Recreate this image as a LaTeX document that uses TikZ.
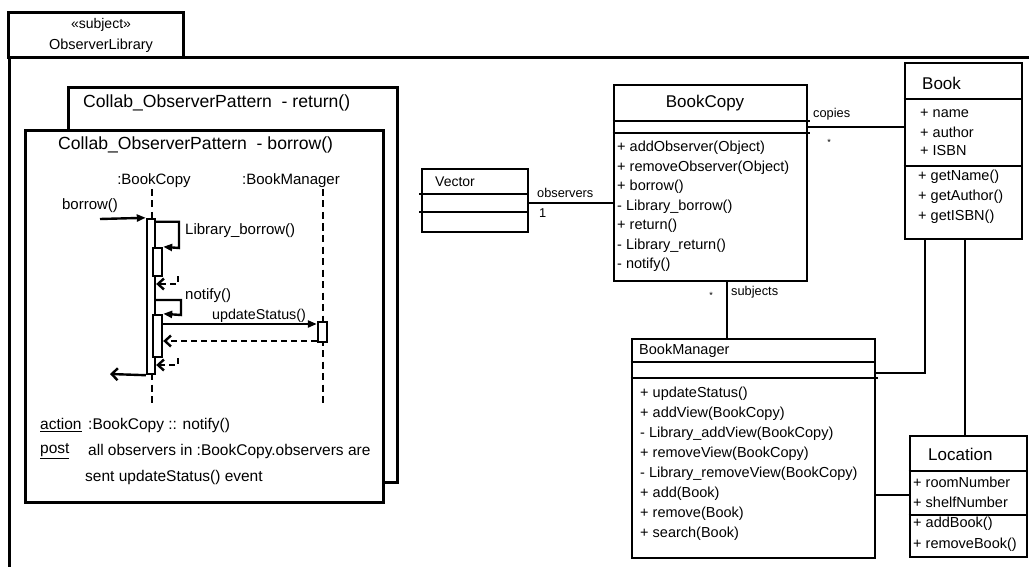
\documentclass[tikz,border=0pt]{standalone}
\usepackage{fontspec}
\setmainfont{Liberation Sans}
\usetikzlibrary{arrows.meta}

\begin{document}
\begin{tikzpicture}[x=1pt,y=-1pt,line join=miter,
  frame/.style={draw,line width=3pt},
  cls/.style={draw,line width=2.8pt,fill=white,inner sep=0pt},
  rule/.style={line width=2.4pt},
  thinrule/.style={line width=1.5pt},
  assoc/.style={line width=2.6pt},
  ttl/.style={inner sep=0pt,font=\fontsize{17}{17}\selectfont},
  mem/.style={inner sep=0pt,anchor=west,font=\fontsize{14.5}{14.5}\selectfont},
  tag/.style={inner sep=0pt,font=\fontsize{12.8}{12.8}\selectfont},
  seqtxt/.style={inner sep=0pt,font=\fontsize{15}{15}\selectfont},
  head/.style={inner sep=0pt,anchor=west,font=\fontsize{17.6}{17.6}\selectfont},
  note/.style={inner sep=0pt,anchor=west,font=\fontsize{15.5}{15.5}\selectfont},
  actbar/.style={draw,line width=2.4pt,fill=white,inner sep=0pt},
  life/.style={line width=2.6pt,dash pattern=on 7pt off 4.5pt},
  msg/.style={line width=2.4pt,-{Triangle[length=9pt,width=7pt]}},
  ret/.style={line width=2.4pt,dash pattern=on 6pt off 4pt,-{Straight Barb[length=6pt,width=11pt,line width=2.4pt]}},
  back/.style={line width=2.4pt,-{Straight Barb[length=6pt,width=12pt,line width=2.4pt]}}
]
\useasboundingbox (0,0) rectangle (1029,567);
\fill[white] (0,0) rectangle (1029,567);

% ---- package frame with its tab ----
\node[frame,minimum width=175pt,minimum height=45pt,inner sep=0pt] (tab) at (95.5,35.5) {};
\node[tag,font=\fontsize{14}{14}\selectfont] (stereo) at (101,25) {«subject»};
\node[tag,font=\fontsize{14.5}{14.5}\selectfont] (pkgname) at (101,46) {ObserverLibrary};
\draw[frame] (1030,58) -- (9,58) -- (9,568);

% ---- collaboration frames ----
\node[frame,fill=white,minimum width=329pt,minimum height=394pt,inner sep=0pt] (retframe) at (232.5,285) {};
\node[head] (rettitle) at (83,103) {Collab\_ObserverPattern~ - return()};
\node[frame,fill=white,minimum width=358pt,minimum height=371pt,inner sep=0pt] (borframe) at (204,316.5) {};
\node[head] (bortitle) at (58,145) {Collab\_ObserverPattern~ - borrow()};

% lifelines
\node[seqtxt] (bchead) at (154,181) {:BookCopy};
\node[seqtxt] (bmhead) at (291,181) {:BookManager};
\coordinate (bctop) at (152,189);
\coordinate (bcbot) at (152,406);
\coordinate (bmtop) at (323,189);
\coordinate (bmbot) at (323,406);
\draw[life] (bctop) -- (bcbot);
\draw[life] (bmtop) -- (bmbot);

% activations
\node[actbar,minimum width=8pt,minimum height=155pt] (act1) at (151,296.5) {};
\node[actbar,minimum width=9pt,minimum height=28pt] (act2) at (157.5,262) {};
\node[actbar,minimum width=9pt,minimum height=42pt] (act3) at (157.5,336) {};
\node[actbar,minimum width=9pt,minimum height=20pt] (bmact) at (322.5,332) {};

% messages
\coordinate (borrowin) at (100,219);
\draw[msg] (borrowin) -- (act1.north west);
\node[seqtxt] (borrowlbl) at (90,206) {borrow()};

\draw[msg] ([yshift=-4pt]act1.north east) -| (179,248) -- (act2.north east);
\node[seqtxt,anchor=west] (libborrowlbl) at (185,231) {Library\_borrow()};
\draw[ret] (178,276) |- (act1.east |- 0,284);

\draw[msg] (act1.east |- 0,300) -| (181,315) -- (act3.north east);
\node[seqtxt,anchor=west] (notifylbl) at (185,296) {notify()};

\draw[msg] (act3.east |- 0,324) -- (bmact.west |- 0,324);
\node[seqtxt,font=\fontsize{14.3}{14.3}\selectfont] (updlbl) at (259,316) {updateStatus()};
\draw[ret] (bmact.west |- 0,341) -- (act3.east |- 0,341);
\draw[ret] (178,358) |- (act1.east |- 0,365);

\coordinate (borrowout) at (110,374);
\draw[back] (act1.south west) -- (borrowout);

% constraint notes
\node[note] (actkey) at (40,425) {\underline{action}};
\node[note] (acttxt) at (88,425) {:BookCopy :: notify()};
\node[note] (postkey) at (40,451) {\underline{post}};
\node[note] (posttxt) at (88,451) {all observers in :BookCopy.observers are};
\node[note] (posttxt2) at (85,477) {sent updateStatus() event};

% ---- class diagram ----
% Vector
\node[cls,minimum width=106pt,minimum height=63pt] (vector) at (475,200.5) {};
\node[inner sep=0pt,anchor=west,font=\fontsize{14}{14}\selectfont] (vectorname) at (435,182) {Vector};
\draw[rule] (419,194) -- (vector.east |- 0,194);
\draw[rule] (419,212) -- (vector.east |- 0,212);

% BookCopy
\node[cls,minimum width=193pt,minimum height=196pt] (bookcopy) at (710.5,183) {};
\node[ttl] (bookcopyname) at (705,103) {BookCopy};
\draw[rule] (bookcopy.west |- 0,121) -- (810,121);
\draw[thinrule] (bookcopy.west |- 0,133) -- (810,133);
\foreach \t [count=\i] in {+ addObserver(Object), + removeObserver(Object), + borrow(), - Library\_borrow(), + return(), - Library\_return(), - notify()}
  \node[mem] (bcop\i) at (617,{148+19.5*(\i-1)}) {\t};

% Book
\node[cls,minimum width=117pt,minimum height=176pt] (book) at (963.5,151) {};
\node[ttl,anchor=west] (bookname) at (922,83) {Book};
\draw[rule] (book.west |- 0,99) -- (book.east |- 0,99);
\draw[rule] (book.west |- 0,166) -- (book.east |- 0,166);
\foreach \t [count=\i] in {+ name, + author, + ISBN}
  \node[mem] (bkatt\i) at (920,{113+19*(\i-1)}) {\t};
\foreach \t [count=\i] in {+ getName(), + getAuthor(), + getISBN()}
  \node[mem] (bkop\i) at (918,{177+20*(\i-1)}) {\t};

% BookManager
\node[cls,minimum width=243pt,minimum height=219pt] (bookmanager) at (753.5,448.5) {};
\node[mem] (bookmanagername) at (639,351) {BookManager};
\draw[thinrule] (bookmanager.west |- 0,362) -- (bookmanager.east |- 0,362);
\draw[rule] (bookmanager.west |- 0,378) -- (878,378);
\foreach \t [count=\i] in {+ updateStatus(), + addView(BookCopy), - Library\_addView(BookCopy), + removeView(BookCopy), - Library\_removeView(BookCopy), + add(Book), + remove(Book), + search(Book)}
  \node[mem] (bmop\i) at (640,{394+20*(\i-1)}) {\t};

% Location
\node[cls,minimum width=117pt,minimum height=121pt] (location) at (968.5,496.5) {};
\node[ttl,anchor=west] (locationname) at (928,454) {Location};
\draw[rule] (location.west |- 0,471) -- (location.east |- 0,471);
\draw[rule] (location.west |- 0,515) -- (location.east |- 0,515);
\foreach \t [count=\i] in {+ roomNumber, + shelfNumber}
  \node[mem] (locatt\i) at (913,{482+20*(\i-1)}) {\t};
\foreach \t [count=\i] in {+ addBook(), + removeBook()}
  \node[mem] (locop\i) at (913,{524+21*(\i-1)}) {\t};

% associations
\draw[assoc] (vector.east |- 0,203) -- (bookcopy.west |- 0,203);
\node[tag,anchor=west] (obslbl) at (537,193) {observers};
\node[tag,anchor=west] (obsmul) at (539,213) {1};

\draw[thinrule] (bookcopy.east |- 0,127) -- (book.west |- 0,127);
\node[tag,anchor=west] (copieslbl) at (813,114) {copies};
\node[inner sep=0pt,font=\fontsize{9}{9}\selectfont] (copiesmul) at (829,142) {*};

\draw[assoc] (bookcopy.south -| 727,0) -- (bookmanager.north -| 727,0);
\node[tag,anchor=west] (subjlbl) at (731,292) {subjects};
\node[inner sep=0pt,font=\fontsize{9}{9}\selectfont] (subjmul) at (711,295) {*};

\draw[assoc] (book.south -| 925,0) |- (bookmanager.east |- 0,373);
\draw[assoc] (book.south -| 965,0) -- (location.north -| 965,0);
\draw[assoc] (bookmanager.east |- 0,495) -- (location.west |- 0,495);
\end{tikzpicture}
\end{document}
